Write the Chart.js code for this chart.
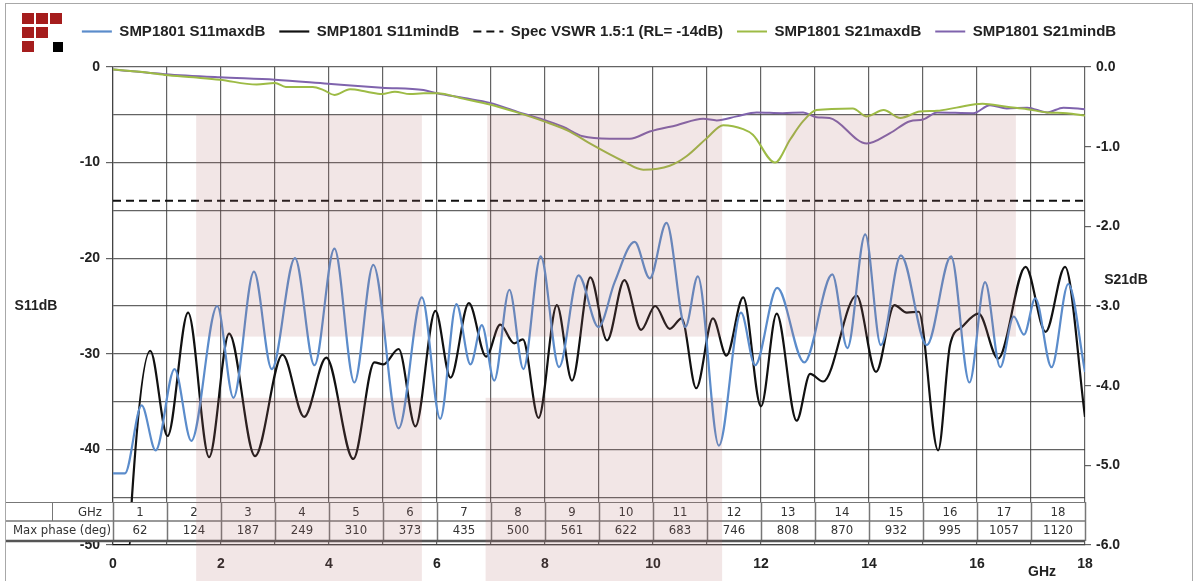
<!DOCTYPE html>
<html>
<head>
<meta charset="utf-8">
<title>SMP1801 S-parameters</title>
<script src="https://cdn.jsdelivr.net/npm/chart.js@4.4.0/dist/chart.umd.min.js"></script>
<style>
  html, body { margin: 0; padding: 0; background: #fff; }
  canvas { display: block; }
</style>
</head>
<body>
<canvas id="chart" width="1198" height="581"></canvas>
<script>
// --- DATA ---

// S11 max (blue), GHz / dB, left axis
const s11MaxGHz = [0, 0.22, 0.53, 0.79, 1.14, 1.45, 1.93, 2.23, 2.61, 2.94, 3.37, 3.73, 4.10, 4.47, 4.82, 5.29, 5.72, 6.06,
  6.36, 6.62, 6.83, 7.06, 7.34, 7.60, 7.92, 8.26, 8.62, 8.99, 9.29, 9.66, 9.94, 10.25, 10.60, 10.83, 11.22, 11.63,
  11.89, 12.30, 12.80, 13.32, 13.60, 13.93, 14.22, 14.59, 15.07, 15.52, 15.86, 16.15, 16.43, 16.68, 16.87, 17.08,
  17.38, 17.69, 18.0];
const s11MaxDb = [-42.5, -42.5, -35.4, -40.1, -31.6, -39.1, -25.0, -34.6, -21.4, -31.6, -20.0, -31.2, -19.0, -33.0, -20.7, -37.8, -24.1, -36.8,
  -24.8, -31.1, -27.0, -32.8, -23.3, -31.6, -19.8, -31.4, -21.8, -27.2, -22.5, -18.3, -22.1, -16.3, -27.2, -21.9, -39.6, -25.7,
  -31.2, -23.1, -30.9, -21.7, -29.4, -17.5, -29.1, -19.7, -29.1, -19.8, -33.0, -22.5, -31.4, -26.1, -28.0, -24.2,
  -31.4, -22.7, -31.9];

// S11 min (black)
const s11MinGHz = [0, 0.31, 0.35, 0.69, 1.01, 1.39, 1.78, 2.15, 2.63, 3.14, 3.54, 3.95, 4.45, 4.84, 5.01, 5.29, 5.60, 5.97,
  6.25, 6.59, 6.91, 7.17, 7.43, 7.59, 7.88, 8.22, 8.50, 8.84, 9.15, 9.47, 9.78, 10.04, 10.31, 10.53, 10.80, 11.11,
  11.36, 11.67, 12.00, 12.29, 12.66, 12.91, 13.15, 13.77, 14.13, 14.47, 14.70, 14.92, 15.28, 15.50, 15.72, 16.03,
  16.39, 16.90, 17.27, 17.63, 18.0];
const s11MinDb = [-50, -50, -45.1, -29.7, -38.6, -25.7, -40.8, -27.9, -40.7, -30.1, -36.6, -30.4, -41.0, -30.9, -31.1, -29.5, -37.6, -25.5,
  -32.5, -24.7, -30.3, -26.95, -28.9, -28.5, -36.7, -24.9, -32.8, -22.0, -28.6, -22.3, -27.5, -25.0, -27.4, -26.3, -33.6, -26.3,
  -30.2, -24.1, -35.5, -25.8, -37.0, -32.1, -32.9, -23.9, -31.9, -24.9, -25.7, -25.6, -40.1, -29.1, -27.2, -25.8,
  -30.5, -20.9, -27.7, -20.9, -36.6];

// Spec limit VSWR 1.5:1
const specGHz = [0, 18];
const specDb = [-14, -14];

// S21 max (green), right axis
const s21MaxGHz = [0, 0.5, 0.96, 1.49, 1.98, 2.66, 3.0, 3.2, 3.7, 3.9, 4.1, 4.39, 4.7, 4.98, 5.22, 5.5, 5.75, 6.0,
  6.5, 6.98, 7.48, 7.97, 8.46, 8.83, 9.44, 9.82, 10.31, 10.62, 11.0, 11.3, 11.67, 11.85, 12.26, 12.54, 12.78, 13.03,
  13.7, 13.96, 14.27, 14.58, 14.94, 15.26, 15.62, 16.1, 16.55, 16.93, 17.3, 17.66, 18.0];
const s21MaxDb = [-0.03, -0.06, -0.10, -0.13, -0.16, -0.22, -0.20, -0.25, -0.25, -0.29, -0.35, -0.28, -0.31, -0.34, -0.31, -0.34, -0.33, -0.33,
  -0.40, -0.47, -0.57, -0.68, -0.81, -0.96, -1.18, -1.29, -1.24, -1.12, -0.89, -0.73, -0.78, -0.85, -1.20, -0.91, -0.68, -0.54,
  -0.52, -0.62, -0.54, -0.64, -0.56, -0.55, -0.51, -0.46, -0.50, -0.53, -0.57, -0.58, -0.61];

// S21 min (purple)
const s21MinGHz = [0, 0.96, 1.98, 3.0, 3.98, 4.98, 5.75, 6.0, 6.5, 6.98, 7.48, 7.97, 8.33, 8.7, 9.2, 9.57, 9.94, 10.44,
  10.93, 11.18, 11.55, 11.92, 12.4, 12.78, 13.03, 13.27, 13.96, 14.39, 14.76, 15.0, 15.26, 15.93, 16.24, 16.55,
  16.93, 17.3, 17.6, 18.0];
const s21MinDb = [-0.03, -0.09, -0.13, -0.16, -0.21, -0.26, -0.29, -0.33, -0.39, -0.45, -0.56, -0.66, -0.75, -0.87, -0.90, -0.90, -0.81, -0.73,
  -0.65, -0.67, -0.62, -0.57, -0.58, -0.57, -0.63, -0.64, -0.96, -0.83, -0.68, -0.66, -0.57, -0.58, -0.48, -0.52,
  -0.51, -0.57, -0.51, -0.53];

// table under the plot
const tableGHz = [1, 2, 3, 4, 5, 6, 7, 8, 9, 10, 11, 12, 13, 14, 15, 16, 17, 18];
const tablePhase = [62, 124, 187, 249, 310, 373, 435, 500, 561, 622, 683, 746, 808, 870, 932, 995, 1057, 1120];

// shaded bands (GHz from/to, dB top/bottom; null bottom = runs off the page)
const bandFrom = [1.54, 1.54, 6.93, 6.90, 12.46];
const bandTo = [5.72, 5.72, 11.28, 11.28, 16.72];
const bandTop = [-5, -34.6, -5, -34.6, -5];
const bandBottom = [-28.2, null, -28.2, null, -28.2];

const FONT = '"Liberation Sans", Arial, sans-serif';
const NARROW = '"Liberation Sans Narrow", "DejaVu Sans Condensed", sans-serif';
const GRID = 'rgba(60, 60, 60, 0.8)';

function toPoints(xs, ys) {
  return xs.map((x, i) => ({ x: x, y: ys[i] }));
}

function line(ctx, x0, y0, x1, y1) {
  ctx.beginPath();
  ctx.moveTo(x0, y0);
  ctx.lineTo(x1, y1);
  ctx.stroke();
}

// legend items keep the dash and width of their dataset
function legendLabels(chart) {
  return Chart.defaults.plugins.legend.labels.generateLabels(chart).map(item => {
    const ds = chart.data.datasets[item.datasetIndex];
    item.lineDash = ds.borderDash || [];
    item.lineWidth = ds.borderWidth;
    return item;
  });
}

// make room between the legend and the plot
const legendSpacer = {
  id: 'legendSpacer',
  beforeInit(chart) {
    const fit = chart.legend.fit;
    chart.legend.fit = function () {
      fit.call(this);
      this.height += 18;
    };
  }
};

// frame, logo, axis titles, table and pink bands
const decor = {
  id: 'decor',
  afterDraw(chart) {
    const { ctx, chartArea: area, scales } = chart;
    const xs = scales.x, ys = scales.y, ys1 = scales.y1;
    ctx.save();

    // outer frame
    ctx.strokeStyle = '#a8a8a8';
    ctx.lineWidth = 1;
    ctx.strokeRect(5.5, 3.5, chart.width - 11, chart.height + 10);

    // logo
    ctx.fillStyle = '#a51d1d';
    [[22, 13], [36, 13], [50, 13], [22, 27], [36, 27], [22, 41]].forEach(p => ctx.fillRect(p[0], p[1], 12, 11));
    ctx.fillStyle = '#000';
    ctx.fillRect(53, 42, 10, 10);

    // axis titles
    ctx.fillStyle = '#222';
    ctx.font = 'bold 14px ' + FONT;
    ctx.textAlign = 'center';
    ctx.textBaseline = 'middle';
    ctx.fillText('S11dB', 36, (area.top + area.bottom) / 2);
    ctx.fillText('S21dB', area.right + 41, ys1.getPixelForValue(-2.67));
    ctx.fillText('GHz', area.right - 43, area.bottom + 27);

    // table
    const rowTop = area.bottom - 43, rowMid = area.bottom - 24, rowBot = area.bottom - 4;
    ctx.fillStyle = '#fff';
    ctx.fillRect(6, rowTop, area.right - 6, rowBot - rowTop);
    ctx.strokeStyle = '#777';
    ctx.lineWidth = 1;
    line(ctx, 6, rowTop + 0.5, area.right, rowTop + 0.5);
    ctx.lineWidth = 1.5;
    line(ctx, 6, rowMid, area.right, rowMid);
    tableGHz.concat([0]).forEach(g => {
      const px = Math.round(xs.getPixelForValue(g)) + 0.5;
      line(ctx, px, rowTop, px, rowBot);
    });
    ctx.lineWidth = 1;
    line(ctx, 52.5, rowTop, 52.5, rowMid);
    ctx.strokeStyle = '#555';
    ctx.lineWidth = 2.5;
    line(ctx, 6, rowBot, area.right, rowBot);

    ctx.fillStyle = '#333';
    ctx.font = '13px ' + NARROW;
    ctx.textBaseline = 'middle';
    ctx.textAlign = 'right';
    ctx.fillText('GHz', 102, (rowTop + rowMid) / 2 + 1);
    ctx.fillText('Max phase (deg)', 111, (rowMid + rowBot) / 2);
    ctx.textAlign = 'center';
    tableGHz.forEach((g, i) => {
      const cx = xs.getPixelForValue(g - 0.5);
      ctx.fillText(String(g), cx, (rowTop + rowMid) / 2 + 1);
      ctx.fillText(String(tablePhase[i]), cx, (rowMid + rowBot) / 2);
    });

    // pink bands over everything
    ctx.fillStyle = 'rgba(175, 105, 105, 0.17)';
    bandFrom.forEach((f, i) => {
      const x0 = xs.getPixelForValue(f), x1 = xs.getPixelForValue(bandTo[i]);
      const y0 = ys.getPixelForValue(bandTop[i]);
      const y1 = bandBottom[i] === null ? chart.height : ys.getPixelForValue(bandBottom[i]);
      ctx.fillRect(x0, y0, x1 - x0, y1 - y0);
    });

    ctx.restore();
  }
};

const lineDefaults = { pointRadius: 0, borderWidth: 2.2, cubicInterpolationMode: 'monotone', fill: false };

new Chart(document.getElementById('chart'), {
  type: 'line',
  data: {
    datasets: [
      { ...lineDefaults, label: 'SMP1801 S11maxdB', data: toPoints(s11MaxGHz, s11MaxDb), borderColor: '#5b8ccb', yAxisID: 'y' },
      { ...lineDefaults, label: 'SMP1801 S11mindB', data: toPoints(s11MinGHz, s11MinDb), borderColor: '#111', yAxisID: 'y' },
      { ...lineDefaults, label: 'Spec VSWR 1.5:1 (RL= -14dB)', data: toPoints(specGHz, specDb), borderColor: '#111',
        borderDash: [8, 5], borderWidth: 2, yAxisID: 'y' },
      { ...lineDefaults, label: 'SMP1801 S21maxdB', data: toPoints(s21MaxGHz, s21MaxDb), borderColor: '#9dbb45',
        borderWidth: 2, yAxisID: 'y1' },
      { ...lineDefaults, label: 'SMP1801 S21mindB', data: toPoints(s21MinGHz, s21MinDb), borderColor: '#7f63ad',
        borderWidth: 2, yAxisID: 'y1' }
    ]
  },
  options: {
    responsive: false,
    animation: false,
    devicePixelRatio: 1,
    layout: { padding: { top: 10, left: 0, right: 0, bottom: 0 } },
    plugins: {
      legend: {
        position: 'top',
        labels: {
          usePointStyle: true,
          pointStyle: 'line',
          pointStyleWidth: 30,
          padding: 14,
          color: '#222',
          font: { family: FONT, size: 15, weight: 'bold' },
          generateLabels: legendLabels
        }
      },
      tooltip: { enabled: false }
    },
    scales: {
      x: {
        type: 'linear',
        min: 0,
        max: 18,
        afterFit: s => { s.height = 36; },
        ticks: {
          stepSize: 1,
          autoSkip: false,
          padding: 11,
          color: '#222',
          font: { family: FONT, size: 14, weight: 'bold' },
          callback: v => (v % 2 === 0 ? v : '')
        },
        grid: { color: GRID, lineWidth: 1.2, drawTicks: false },
        border: { color: GRID, width: 1.2 }
      },
      y: {
        position: 'left',
        min: -50,
        max: 0,
        afterFit: s => { s.width = 113; },
        ticks: {
          stepSize: 5,
          padding: 6,
          color: '#222',
          font: { family: FONT, size: 14, weight: 'bold' },
          callback: v => (v % 10 === 0 ? v : '')
        },
        grid: {
          color: GRID,
          lineWidth: 1.2,
          tickLength: 7,
          tickColor: c => (c.tick && c.tick.value % 10 === 0 ? GRID : 'rgba(0,0,0,0)')
        },
        border: { color: GRID, width: 1.2 }
      },
      y1: {
        position: 'right',
        min: -6,
        max: 0,
        afterFit: s => { s.width = 113; },
        ticks: {
          stepSize: 1,
          padding: 5,
          color: '#222',
          font: { family: FONT, size: 14, weight: 'bold' },
          callback: v => v.toFixed(1)
        },
        grid: { drawOnChartArea: false, tickLength: 6, tickColor: GRID, lineWidth: 1.2 },
        border: { display: false }
      }
    }
  },
  plugins: [legendSpacer, decor]
});
</script>
</body>
</html>
